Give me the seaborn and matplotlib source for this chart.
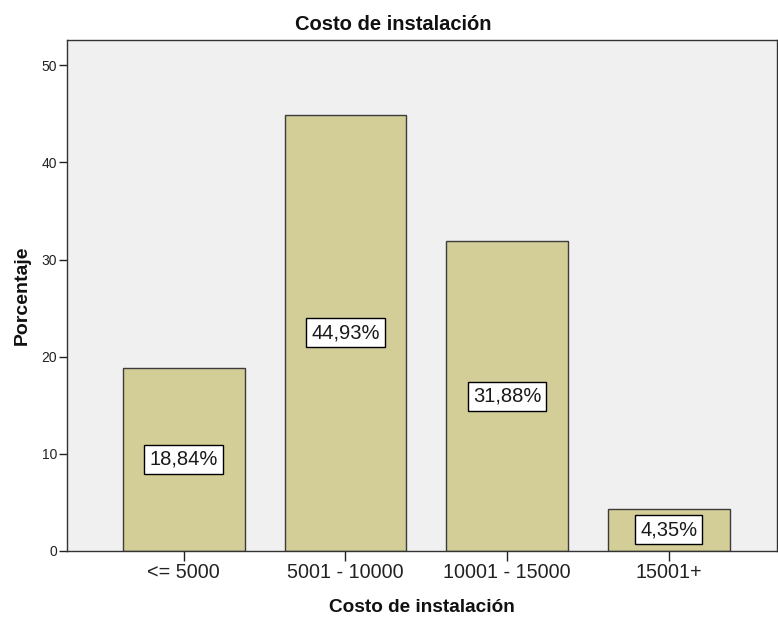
import pandas as pd
from matplotlib import pyplot as plt
import seaborn as sns

# Datos
categorias = ["<= 5000", "5001 - 10000", "10001 - 15000", "15001+"]
porcentajes = [18.84, 44.93, 31.88, 4.35]
etiquetas = ["18,84%", "44,93%", "31,88%", "4,35%"]

df_plot = pd.DataFrame({"costo": categorias, "porcentaje": porcentajes})

sns.set_theme(style="white")
plt.rcParams["font.family"] = ["Liberation Sans", "DejaVu Sans"]

fig = plt.figure(figsize=(7.78, 6.17), dpi=100)
ax = fig.add_axes([0.086, 0.107, 0.913, 0.828])
ax.set_facecolor("#f0f0f0")

sns.barplot(data=df_plot, x="costo", y="porcentaje", color="#d3ce97", saturation=1,
            width=0.753, edgecolor="#3c3c3c", linewidth=1, ax=ax)

# Etiquetas en el centro de cada barra
for i, (valor, texto) in enumerate(zip(porcentajes, etiquetas)):
    ax.text(i, valor / 2, texto, ha="center", va="center", fontsize=14.5, color="#1a1a1a",
            bbox=dict(boxstyle="square,pad=0.25", facecolor="white", edgecolor="black", linewidth=1))

ax.set_xlim(-0.722, 3.67)
ax.set_ylim(0, 52.6)
ax.set_yticks([0, 10, 20, 30, 40, 50])
ax.tick_params(axis="y", direction="out", length=6, width=1, pad=1, labelsize=10, colors="#222222", left=True)
ax.tick_params(axis="x", direction="out", length=7, width=1, labelsize=14.2, colors="#222222", bottom=True, pad=2)

for lado in ["left", "bottom", "top", "right"]:
    ax.spines[lado].set_color("#333333")
    ax.spines[lado].set_linewidth(1)

# El titulo va centrado en la figura, no en los ejes
fig.text(0.506, 0.961, "Costo de instalación", ha="center", va="center", fontsize=14.5, fontweight="bold",
         color="#111111")
ax.set_xlabel("Costo de instalación", fontsize=13.7, fontweight="bold", labelpad=12, color="#111111")
ax.set_ylabel("Porcentaje", fontsize=14, fontweight="bold", labelpad=8, color="#111111")

plt.savefig("out.png", dpi=100)
